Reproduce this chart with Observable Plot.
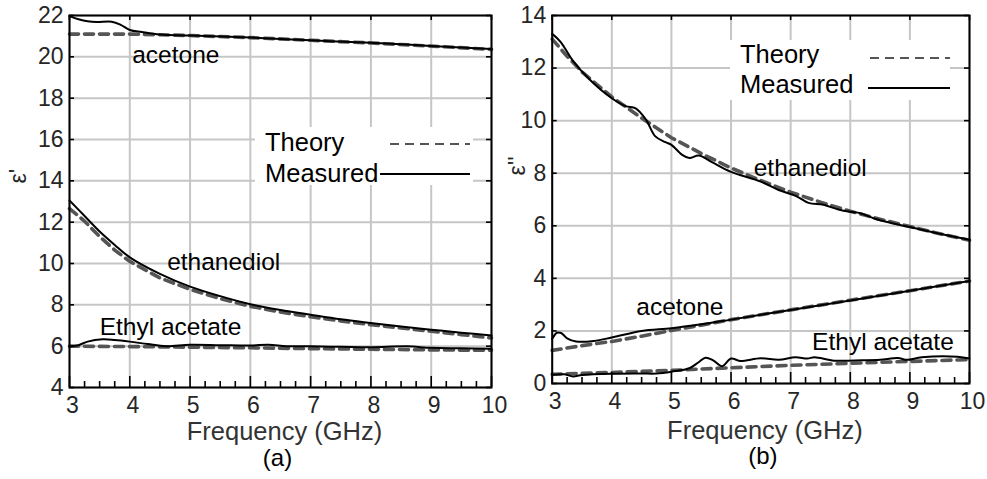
<!DOCTYPE html>
<html><head><meta charset="utf-8">
<script src="https://cdn.jsdelivr.net/npm/d3@7"></script>
<script src="https://cdn.jsdelivr.net/npm/@observablehq/plot@0.6"></script>
<style>
body{margin:0;background:white;}
#wrap{position:relative;width:987px;height:479px;font-family:"Liberation Sans",Arial,Helvetica,sans-serif;}
#wrap > div{position:absolute;top:0;}
</style></head><body><div id="wrap"></div>
<script>
// ---------- tick labels ----------
const xTicks = [3,4,5,6,7,8,9,10];
const xMinor = [3.25,3.5,3.75,4.25,4.5,4.75,5.25,5.5,5.75,6.25,6.5,6.75,7.25,7.5,7.75,8.25,8.5,8.75,9.25,9.5,9.75];
const yTicksA = [4,6,8,10,12,14,16,18,20,22];
const yTicksB = [0,2,4,6,8,10,12,14];

// ---------- panel (a): real permittivity ----------
const aAcetoneMeas = [[3.0,21.97],[3.15,21.82],[3.3,21.72],[3.45,21.68],[3.7,21.7],[3.85,21.55],[4.0,21.3],[4.2,21.2],[4.5,21.08],[5,21.03],[6,20.93],[7,20.8],[8,20.68],[9,20.53],[10,20.38]];
const aAcetoneTheo = [[3,21.1],[4,21.1],[4.5,21.07],[5,21.03],[6,20.93],[7,20.8],[8,20.67],[9,20.52],[10,20.36]];
const aEthanedMeas = [[3,13.05],[3.25,12.3],[3.5,11.55],[3.75,10.9],[4,10.3],[4.5,9.5],[5,8.88],[5.5,8.42],[6,8.03],[6.5,7.75],[7,7.52],[7.5,7.3],[8,7.12],[8.5,6.95],[9,6.8],[9.5,6.65],[10,6.52]];
const aEthanedTheo = [[3,12.65],[3.25,12.05],[3.5,11.3],[3.75,10.65],[4,10.1],[4.5,9.3],[5,8.75],[5.5,8.3],[6,7.93],[6.5,7.65],[7,7.42],[7.5,7.22],[8,7.04],[8.5,6.88],[9,6.72],[9.5,6.56],[10,6.4]];
const aEthylMeas = [[3,5.97],[3.15,6.05],[3.3,6.22],[3.55,6.33],[3.75,6.3],[4,6.22],[4.3,6.1],[4.6,6.0],[5,6.07],[5.5,6.05],[6,6.03],[6.3,6.07],[6.6,6.0],[7,5.99],[7.5,5.97],[8,5.95],[8.6,5.99],[9,5.92],[9.5,5.9],[10,5.88]];
const aEthylTheo = [[3,6.0],[4,5.98],[5,5.95],[6,5.92],[7,5.88],[8,5.85],[9,5.82],[10,5.8]];
const aNotes = [{label:"acetone",f:4.04,v:19.68},{label:"ethanediol",f:4.62,v:9.7},{label:"Ethyl acetate",f:3.5,v:6.55}];

// ---------- panel (b): imaginary permittivity ----------
const bEthanedMeas = [[3.0,13.3],[3.14,13.0],[3.34,12.3],[3.61,11.6],[4.0,10.85],[4.23,10.55],[4.4,10.47],[4.57,10.05],[4.73,9.4],[4.9,9.18],[5.0,9.08],[5.18,8.7],[5.3,8.58],[5.46,8.67],[5.68,8.42],[6.0,8.05],[6.5,7.68],[6.8,7.36],[7.1,7.12],[7.3,6.87],[7.55,6.8],[7.8,6.62],[8.0,6.53],[8.17,6.48],[8.4,6.28],[8.7,6.1],[9.0,5.95],[9.5,5.7],[10.0,5.47]];
const bEthanedTheo = [[3,13.1],[3.25,12.45],[3.5,11.85],[4,10.9],[4.5,10.1],[5,9.35],[5.5,8.75],[6,8.2],[6.5,7.72],[7,7.28],[7.5,6.9],[8,6.55],[8.5,6.25],[9,5.97],[9.5,5.7],[10,5.45]];
const bAcetoneMeas = [[3.0,1.7],[3.08,1.93],[3.15,1.92],[3.25,1.72],[3.4,1.6],[3.7,1.62],[4.0,1.75],[4.5,2.0],[5.0,2.1],[5.5,2.25],[6.0,2.43],[7.0,2.8],[8.0,3.16],[9.0,3.53],[10.0,3.9]];
const bAcetoneTheo = [[3,1.26],[3.5,1.44],[4,1.6],[4.5,1.8],[5,2.02],[5.5,2.22],[6,2.43],[7,2.8],[8,3.17],[9,3.53],[10,3.9]];
const bEthylMeas = [[3.0,0.33],[3.2,0.35],[3.35,0.27],[3.5,0.32],[4.0,0.37],[4.5,0.38],[4.75,0.38],[5.0,0.45],[5.3,0.58],[5.45,0.8],[5.57,0.98],[5.7,0.88],[5.85,0.66],[6.0,0.95],[6.15,0.86],[6.5,0.96],[6.8,0.9],[7.08,1.0],[7.28,0.95],[7.4,1.0],[7.73,0.87],[8.2,0.88],[8.5,0.9],[8.8,0.97],[8.95,0.9],[9.2,1.0],[9.8,1.02],[10.0,0.95]];
const bEthylTheo = [[3,0.35],[4,0.42],[5,0.5],[6,0.6],[7,0.69],[8,0.77],[9,0.84],[10,0.91]];
const bNotes = [{label:"ethanediol",f:6.38,v:7.91},{label:"acetone",f:4.41,v:2.59},{label:"Ethyl acetate",f:7.36,v:1.26}];

const legendItems = [
  {label:"Theory", stroke:"#555", dash:"9,6"},
  {label:"Measured", stroke:"#000", dash:null}
];

function rows(list){ return list.flatMap(([name, pts]) => pts.map(([f,v]) => ({series:name, f, v}))); }

const FONT = "Liberation Sans, Arial, Helvetica, sans-serif";

function panel(o){
  const H = 479, mt = 15;
  const plotH = H - mt - o.mb, plotW = o.w - o.ml - o.mr;
  return Plot.plot({
    width:o.w, height:H, marginLeft:o.ml, marginRight:o.mr, marginTop:mt, marginBottom:o.mb,
    style:{fontFamily:FONT, background:"none", overflow:"visible"},
    x:{domain:[3,10]},
    y:{domain:o.yDomain},
    marks:[
      Plot.gridX(xTicks,{stroke:"#c6c6c6", strokeOpacity:1, strokeWidth:2}),
      Plot.gridY(o.yTicks,{stroke:"#c6c6c6", strokeOpacity:1, strokeWidth:2}),
      Plot.line(o.theory,{x:"f", y:"v", z:"series", stroke:"#555", strokeWidth:3.6, strokeDasharray:"9,6"}),
      Plot.line(o.measured,{x:"f", y:"v", z:"series", stroke:"#000", strokeWidth:2, curve:"catmull-rom"}),
      Plot.tickX(xTicks,{x:d=>d, stroke:"#000", strokeWidth:1.6, insetTop:plotH-11}),
      Plot.tickX(xMinor,{x:d=>d, stroke:"#000", strokeWidth:1.6, insetTop:plotH-6}),
      Plot.tickX(xTicks,{x:d=>d, stroke:"#000", strokeWidth:1.6, insetBottom:plotH-5}),
      Plot.tickY(o.yTicks,{y:d=>d, stroke:"#000", strokeWidth:1.6, insetRight:plotW-5}),
      Plot.tickY(o.yTicks,{y:d=>d, stroke:"#000", strokeWidth:1.6, insetLeft:plotW-5}),
      Plot.frame({stroke:"#000", strokeWidth:2}),
      Plot.axisX(xTicks,{tickSize:0, tickPadding:9, fontSize:23, fill:"#262626", dx:3, label:null}),
      Plot.axisY(o.yTicks,{tickSize:0, tickPadding:6, fontSize:23, fill:"#262626", label:null}),
      Plot.text(o.notes,{x:"f", y:"v", text:"label", textAnchor:"start", lineAnchor:"bottom", fontSize:24.5, fill:"#000"}),
      Plot.text([o.ylabel],{text:d=>d, frameAnchor:"left", rotate:-90, dx:o.ylDx, dy:o.ylDy, fontSize:23, fill:"#262626"}),
      Plot.text(["Frequency (GHz)"],{text:d=>d, frameAnchor:"bottom", dx:4, dy:o.xlDy, lineAnchor:"bottom", fontSize:25.5, fill:"#333"}),
      Plot.text([o.caption],{text:d=>d, frameAnchor:"bottom", dx:o.capDx, dy:o.capDy, lineAnchor:"bottom", fontSize:24, fill:"#000"})
    ]
  });
}

function legend(b){
  const svg = d3.create("svg").attr("width",b.w).attr("height",b.h)
    .style("position","absolute").style("left",b.left+"px").style("top",b.top+"px").style("overflow","visible");
  svg.append("rect").attr("width",b.w).attr("height",b.h).attr("fill","white");
  legendItems.forEach((it,i)=>{
    svg.append("text").attr("x",b.tx).attr("y",b.ty[i]).attr("font-family",FONT).attr("font-size",25.5).attr("fill","#000").text(it.label);
    const ln = svg.append("line").attr("x1",b.lx1[i]).attr("x2",b.lx2).attr("y1",b.ly[i]).attr("y2",b.ly[i])
      .attr("stroke",it.stroke).attr("stroke-width",2);
    if(it.dash) ln.attr("stroke-dasharray",it.dash);
  });
  return svg.node();
}

const wrap = document.getElementById("wrap");

const left = document.createElement("div");
left.style.left = "0px";
left.appendChild(panel({
  w:493, ml:69, mr:2, mb:92, yDomain:[4,22], yTicks:yTicksA,
  theory: rows([["acetone",aAcetoneTheo],["ethanediol",aEthanedTheo],["ethyl",aEthylTheo]]),
  measured: rows([["acetone",aAcetoneMeas],["ethanediol",aEthanedMeas],["ethyl",aEthylMeas]]),
  notes:aNotes, ylabel:"ε'", ylDx:-51, ylDy:-18, xlDy:52, caption:"(a)", capDx:-3, capDy:78
}));
const right = document.createElement("div");
right.style.left = "493px";
right.appendChild(panel({
  w:494, ml:58.7, mr:18, mb:96, yDomain:[0,14], yTicks:yTicksB,
  theory: rows([["ethanediol",bEthanedTheo],["acetone",bAcetoneTheo],["ethyl",bEthylTheo]]),
  measured: rows([["ethanediol",bEthanedMeas],["acetone",bAcetoneMeas],["ethyl",bEthylMeas]]),
  notes:bNotes, ylabel:"ε''", ylDx:-35, ylDy:-24, xlDy:55, caption:"(b)", capDx:2, capDy:80
}));
wrap.appendChild(left);
wrap.appendChild(right);
wrap.appendChild(legend({left:255, top:127, w:218, h:58, tx:10, ty:[23.7,54.7], lx1:[135,125], lx2:215, ly:[17,47]}));
wrap.appendChild(legend({left:730, top:40, w:220, h:60, tx:10, ty:[23,53], lx1:[140,138], lx2:220, ly:[18,48]}));
</script></body></html>
